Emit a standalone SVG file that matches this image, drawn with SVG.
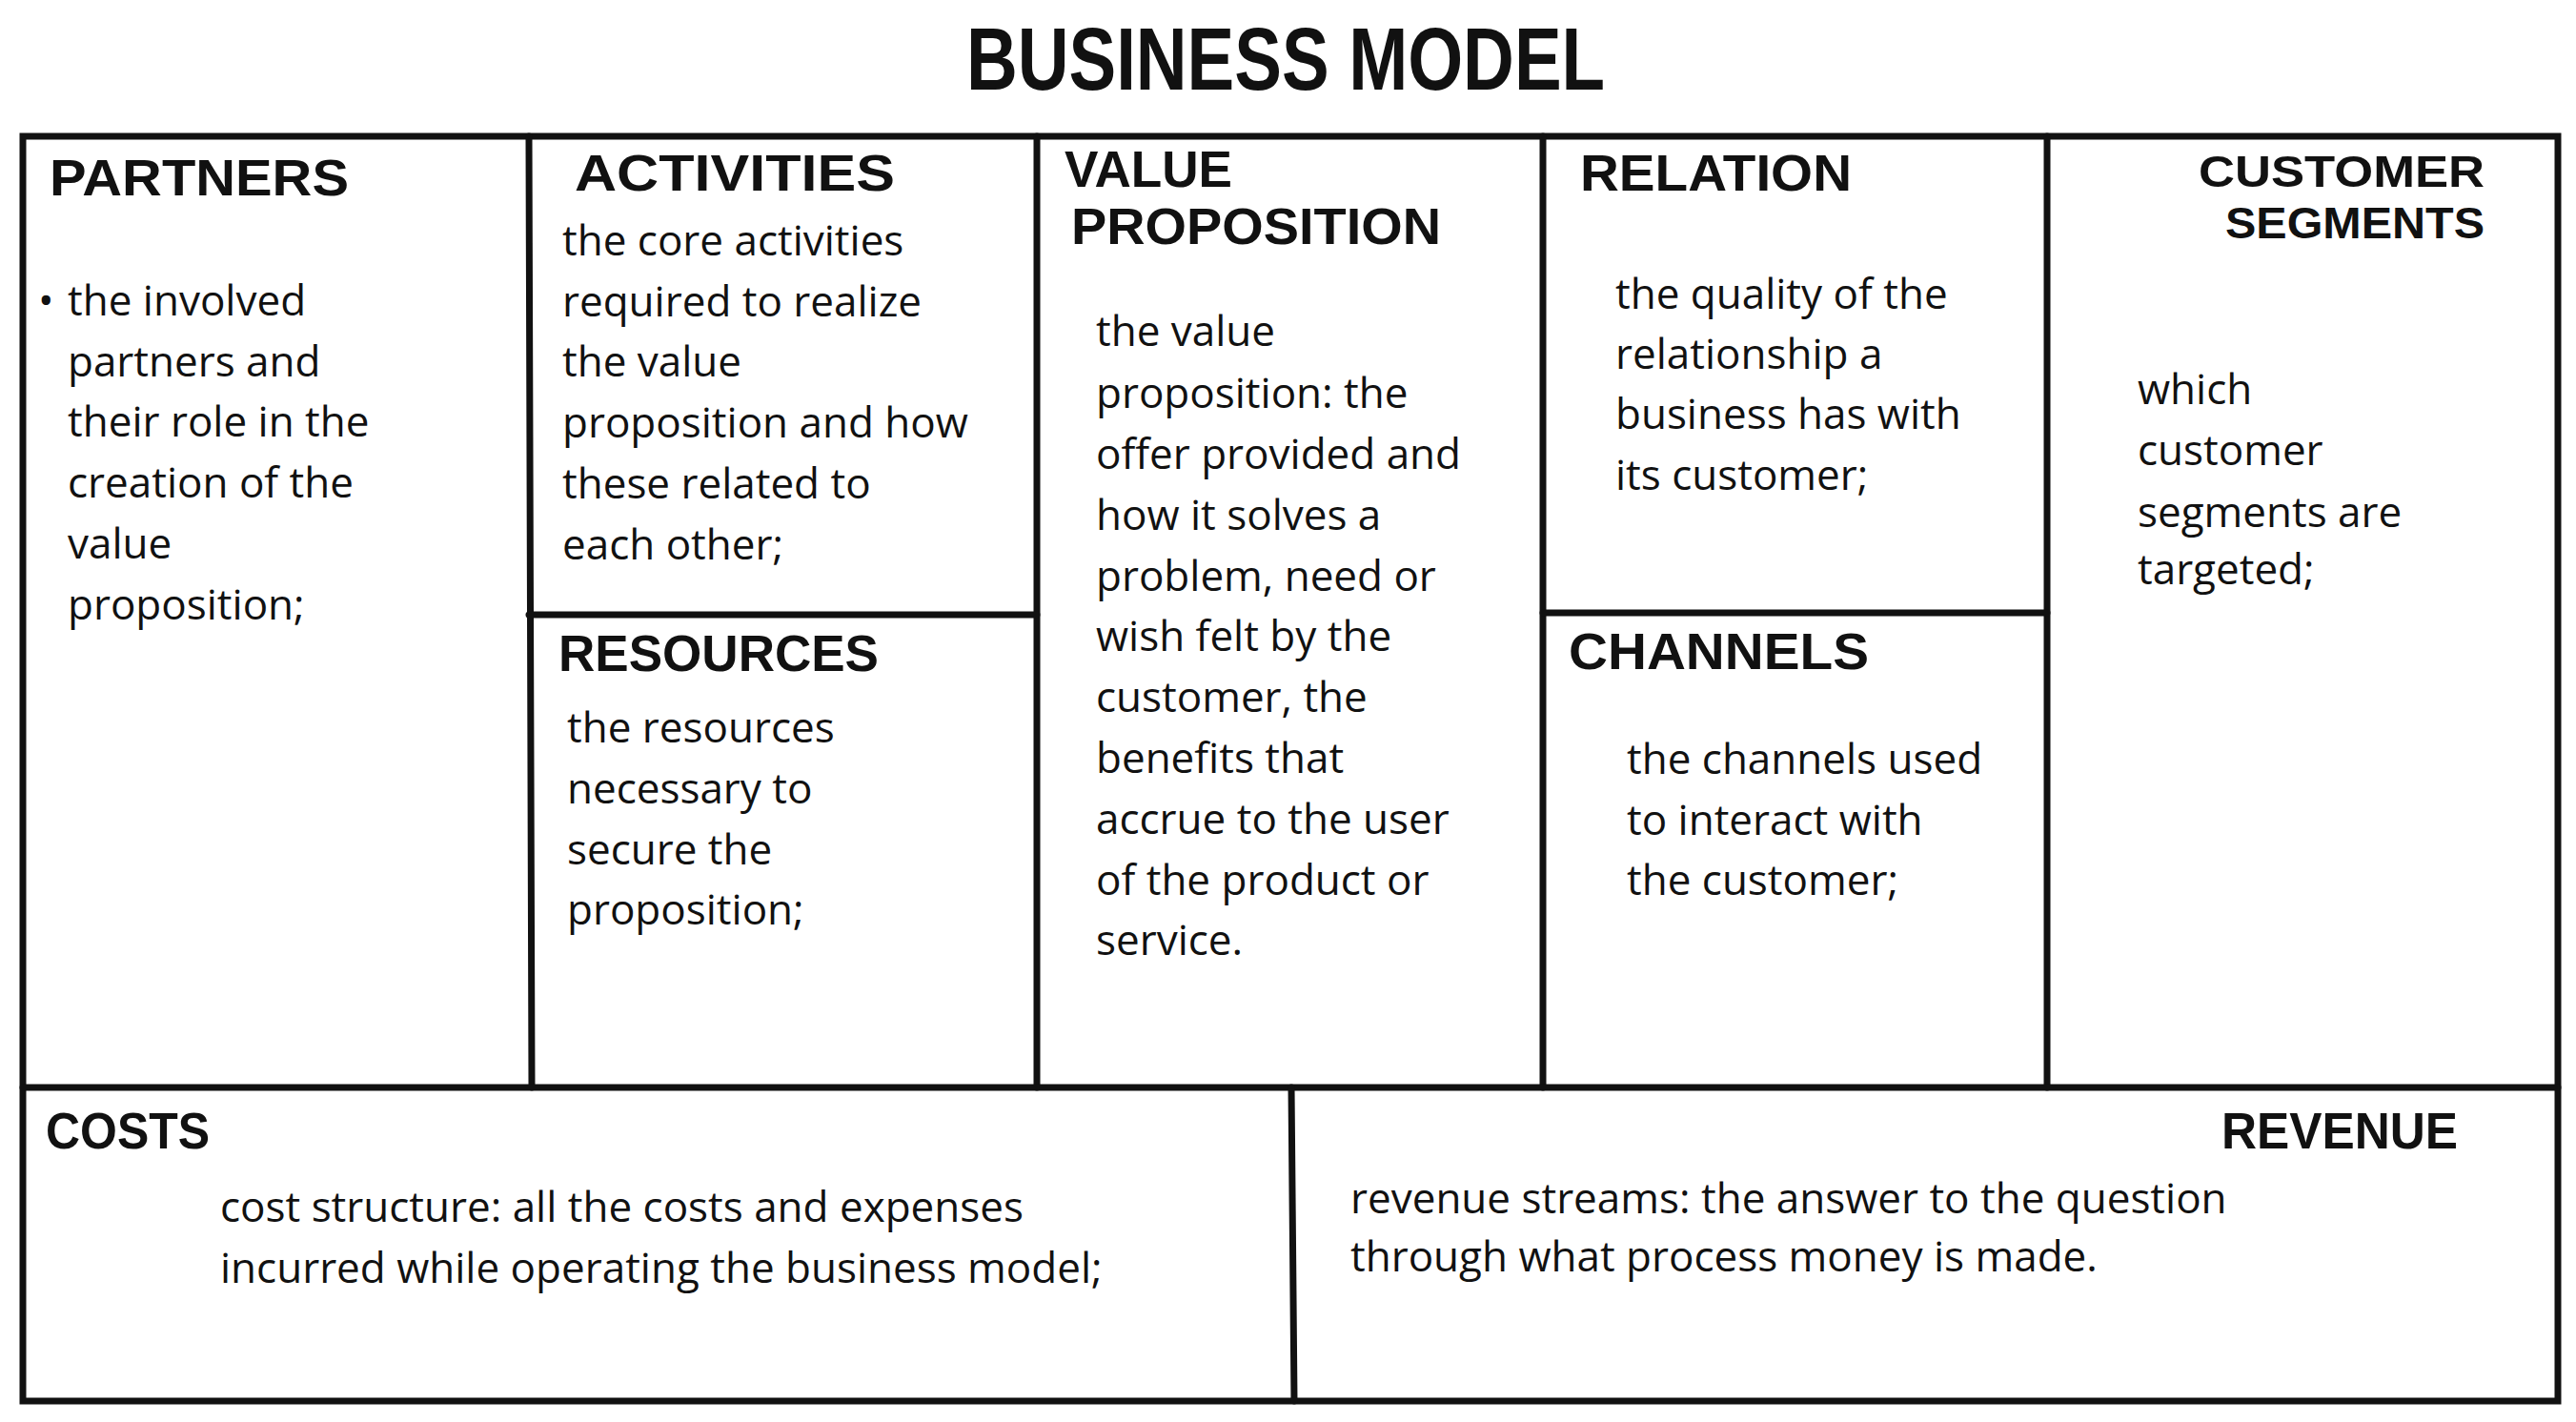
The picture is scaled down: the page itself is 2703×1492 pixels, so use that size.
<svg xmlns="http://www.w3.org/2000/svg" width="2703" height="1492" viewBox="0 0 2703 1492">
<style>
.ln{stroke:#111;stroke-width:7;fill:none;stroke-linecap:round}
.h{font-family:"Liberation Sans",sans-serif;font-weight:bold;font-size:54px;fill:#111}
.t{font-family:"Open Sans",sans-serif;font-size:44px;fill:#111}
</style>
<rect width="2703" height="1492" fill="#fff"/>
<text class="h" x="1014" y="94" style="font-size:92px" textLength="670" lengthAdjust="spacingAndGlyphs">BUSINESS MODEL</text>
<g id="connectors">
<rect class="ln" x="24" y="143" width="2660" height="1327"/>
<line class="ln" x1="555" y1="143" x2="558" y2="1141"/>
<line class="ln" x1="1088" y1="143" x2="1088" y2="1141"/>
<line class="ln" x1="1619" y1="143" x2="1619" y2="1141"/>
<line class="ln" x1="2148" y1="143" x2="2148" y2="1141"/>
<line class="ln" x1="555" y1="645" x2="1088" y2="645"/>
<line class="ln" x1="1619" y1="643" x2="2148" y2="643"/>
<line class="ln" x1="24" y1="1141" x2="2684" y2="1141"/>
<line class="ln" x1="1355" y1="1141" x2="1358" y2="1470"/>
</g>
<g id="partners">
<text class="h" x="52" y="205" textLength="314" lengthAdjust="spacingAndGlyphs">PARTNERS</text>
<text class="t" x="40" y="331">•</text>
<text class="t"><tspan x="71" y="331">the involved</tspan><tspan x="71" y="395">partners and</tspan><tspan x="71" y="458">their role in the</tspan><tspan x="71" y="522">creation of the</tspan><tspan x="71" y="586">value</tspan><tspan x="71" y="650">proposition;</tspan></text>
</g>
<g id="activities">
<text class="h" x="603" y="200" textLength="336" lengthAdjust="spacingAndGlyphs">ACTIVITIES</text>
<text class="t"><tspan x="590" y="268">the core activities</tspan><tspan x="590" y="332">required to realize</tspan><tspan x="590" y="395">the value</tspan><tspan x="590" y="459">proposition and how</tspan><tspan x="590" y="523">these related to</tspan><tspan x="590" y="587">each other;</tspan></text>
</g>
<g id="resources">
<text class="h" x="586" y="704" textLength="336" lengthAdjust="spacingAndGlyphs">RESOURCES</text>
<text class="t"><tspan x="595" y="779">the resources</tspan><tspan x="595" y="843">necessary to</tspan><tspan x="595" y="907">secure the</tspan><tspan x="595" y="970">proposition;</tspan></text>
</g>
<g id="value">
<text class="h" x="1117" y="196" textLength="176" lengthAdjust="spacingAndGlyphs">VALUE</text>
<text class="h" x="1124" y="256" textLength="388" lengthAdjust="spacingAndGlyphs">PROPOSITION</text>
<text class="t"><tspan x="1150" y="363">the value</tspan><tspan x="1150" y="428">proposition: the</tspan><tspan x="1150" y="492">offer provided and</tspan><tspan x="1150" y="556">how it solves a</tspan><tspan x="1150" y="620">problem, need or</tspan><tspan x="1150" y="683">wish felt by the</tspan><tspan x="1150" y="747">customer, the</tspan><tspan x="1150" y="811">benefits that</tspan><tspan x="1150" y="875">accrue to the user</tspan><tspan x="1150" y="939">of the product or</tspan><tspan x="1150" y="1002">service.</tspan></text>
</g>
<g id="relation">
<text class="h" x="1658" y="200" textLength="285" lengthAdjust="spacingAndGlyphs">RELATION</text>
<text class="t"><tspan x="1695" y="324">the quality of the</tspan><tspan x="1695" y="387">relationship a</tspan><tspan x="1695" y="450">business has with</tspan><tspan x="1695" y="514">its customer;</tspan></text>
</g>
<g id="channels">
<text class="h" x="1646" y="702" textLength="315" lengthAdjust="spacingAndGlyphs">CHANNELS</text>
<text class="t"><tspan x="1707" y="812">the channels used</tspan><tspan x="1707" y="876">to interact with</tspan><tspan x="1707" y="939">the customer;</tspan></text>
</g>
<g id="segments">
<text class="h" x="2607" y="196" text-anchor="end" style="font-size:46px" textLength="300" lengthAdjust="spacingAndGlyphs">CUSTOMER</text>
<text class="h" x="2607" y="250" text-anchor="end" style="font-size:46px" textLength="272" lengthAdjust="spacingAndGlyphs">SEGMENTS</text>
<text class="t"><tspan x="2243" y="424">which</tspan><tspan x="2243" y="488">customer</tspan><tspan x="2243" y="553">segments are</tspan><tspan x="2243" y="613">targeted;</tspan></text>
</g>
<g id="costs">
<text class="h" x="48" y="1205" textLength="172" lengthAdjust="spacingAndGlyphs">COSTS</text>
<text class="t"><tspan x="231" y="1282">cost structure: all the costs and expenses</tspan><tspan x="231" y="1346">incurred while operating the business model;</tspan></text>
</g>
<g id="revenue">
<text class="h" x="2579" y="1205" text-anchor="end" textLength="248" lengthAdjust="spacingAndGlyphs">REVENUE</text>
<text class="t"><tspan x="1417" y="1273">revenue streams: the answer to the question</tspan><tspan x="1417" y="1334">through what process money is made.</tspan></text>
</g>
</svg>
